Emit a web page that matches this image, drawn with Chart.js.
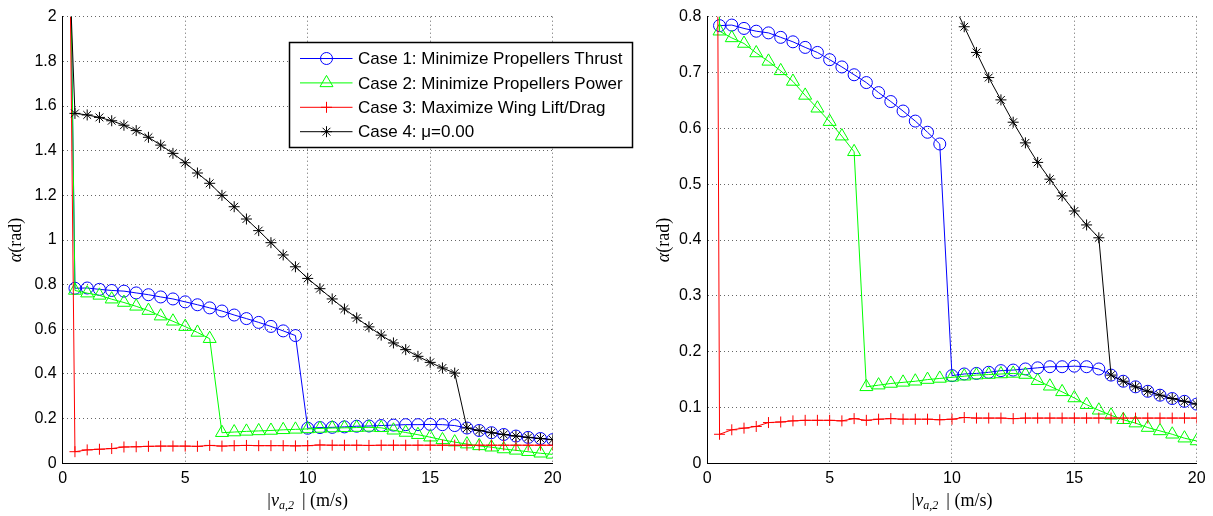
<!DOCTYPE html>
<html>
<head>
<meta charset="utf-8">
<script src="https://cdn.jsdelivr.net/npm/chart.js@4.4.1/dist/chart.umd.min.js"></script>
<style>
    html, body { margin: 0; padding: 0; background: #fff; }
    #wrap { position: relative; width: 1213px; height: 516px; }
    #leftChart { position: absolute; left: 0; top: 0; }
    #rightChart { position: absolute; left: 640px; top: 0; }
</style>
</head>
<body>
<div id="wrap">
    <canvas id="leftChart" width="640" height="516"></canvas>
    <canvas id="rightChart" width="573" height="516"></canvas>
</div>
<script>
// airspeed |v_a,2| (m/s)
const speeds = [0.3, 0.5, 1, 1.5, 2, 2.5, 3, 3.5, 4, 4.5, 5, 5.5, 6, 6.5, 7, 7.5, 8, 8.5, 9, 9.5,
    10, 10.5, 11, 11.5, 12, 12.5, 13, 13.5, 14, 14.5, 15, 15.5, 16, 16.5, 17, 17.5, 18, 18.5, 19, 19.5, 20];

// alpha (rad) per case
const case1Thrust = [2.4, 0.784, 0.785, 0.779, 0.774, 0.771, 0.763, 0.755, 0.745, 0.736, 0.723, 0.710, 0.696, 0.682, 0.664, 0.648, 0.631, 0.613, 0.593, 0.572,
    0.157, 0.160, 0.161, 0.163, 0.166, 0.167, 0.169, 0.171, 0.173, 0.173, 0.174, 0.173, 0.169, 0.158, 0.147, 0.137, 0.129, 0.122, 0.116, 0.111, 0.106];
const case2Power = [2.4, 0.774, 0.762, 0.752, 0.735, 0.720, 0.703, 0.684, 0.659, 0.636, 0.612, 0.586, 0.558, 0.137, 0.140, 0.143, 0.145, 0.147, 0.150, 0.152,
    0.154, 0.156, 0.158, 0.159, 0.160, 0.161, 0.159, 0.148, 0.138, 0.128, 0.117, 0.105, 0.095, 0.086, 0.078, 0.072, 0.064, 0.058, 0.052, 0.045, 0.040];
const case3LiftDrag = [2.2, 0.052, 0.060, 0.063, 0.066, 0.073, 0.074, 0.076, 0.077, 0.077, 0.077, 0.076, 0.080, 0.077, 0.079, 0.080, 0.079, 0.079, 0.079, 0.078,
    0.079, 0.082, 0.081, 0.081, 0.081, 0.080, 0.081, 0.081, 0.081, 0.081, 0.081, 0.081, 0.081, 0.081, 0.081, 0.081, 0.081, 0.081, 0.081, 0.081, 0.081];
const case4Mu0 = [2.15, 1.567, 1.560, 1.549, 1.534, 1.514, 1.490, 1.460, 1.425, 1.388, 1.346, 1.300, 1.254, 1.200, 1.149, 1.094, 1.042, 0.988, 0.933, 0.880,
    0.828, 0.782, 0.736, 0.691, 0.651, 0.611, 0.574, 0.539, 0.509, 0.479, 0.452, 0.427, 0.404, 0.158, 0.147, 0.137, 0.129, 0.122, 0.116, 0.111, 0.106];

const caseLabels = [
    'Case 1: Minimize Propellers Thrust',
    'Case 2: Minimize Propellers Power',
    'Case 3: Maximize Wing Lift/Drag',
    'Case 4: \u03bc=0.00'
];
const caseColors = ['#0000ff', '#00ff00', '#ff0000', '#000000'];
const caseStyles = ['circle', 'triangle', 'cross', 'star'];
const caseRadius = [6, 7.5, 5.5, 5.5];

const sansFont = "'Liberation Sans', Arial, sans-serif";
const serifFont = "'Liberation Serif', 'DejaVu Serif', serif";

function makeDatasets() {
    const all = [case1Thrust, case2Power, case3LiftDrag, case4Mu0];
    return all.map((vals, i) => ({
        label: caseLabels[i],
        data: speeds.map((x, j) => ({ x: x, y: vals[j] })),
        borderColor: caseColors[i],
        backgroundColor: 'rgba(0,0,0,0)',
        pointBorderColor: caseColors[i],
        pointBackgroundColor: 'rgba(0,0,0,0)',
        pointStyle: caseStyles[i],
        pointRadius: caseRadius[i],
        pointBorderWidth: 1,
        borderWidth: 1,
        tension: 0,
        order: 4 - i
    }));
}

// axis titles with italic math parts
const axisTitles = {
    id: 'axisTitles',
    afterDraw(chart, args, opts) {
        const { ctx, chartArea } = chart;
        ctx.save();
        ctx.fillStyle = '#000';
        ctx.textBaseline = 'middle';

        const xParts = [
            { t: '|', f: '18px ' + serifFont, dy: 0 },
            { t: 'v', f: 'italic 18px ' + serifFont, dy: 0 },
            { t: 'a,2', f: 'italic 12px ' + serifFont, dy: 5 },
            { t: ' \u2009| ', f: '18px ' + serifFont, dy: 0 },
            { t: '(m/s)', f: '18px ' + serifFont, dy: 0 }
        ];
        let w = 0;
        xParts.forEach(p => { ctx.font = p.f; p.w = ctx.measureText(p.t).width; w += p.w; });
        let x = (chartArea.left + chartArea.right) / 2 - w / 2;
        ctx.textAlign = 'left';
        xParts.forEach(p => { ctx.font = p.f; ctx.fillText(p.t, x, opts.xTitleY + p.dy); x += p.w; });

        const yParts = [
            { t: '\u03b1', f: 'italic 18px ' + serifFont },
            { t: '(rad)', f: '18px ' + serifFont }
        ];
        w = 0;
        yParts.forEach(p => { ctx.font = p.f; p.w = ctx.measureText(p.t).width; w += p.w; });
        ctx.translate(opts.yTitleX, (chartArea.top + chartArea.bottom) / 2);
        ctx.rotate(-Math.PI / 2);
        x = -w / 2;
        yParts.forEach(p => { ctx.font = p.f; ctx.fillText(p.t, x, 0); x += p.w; });
        ctx.restore();
    }
};

// boxed legend like the original figure
const boxLegend = {
    id: 'boxLegend',
    afterDraw(chart, args, opts) {
        if (!opts.show) return;
        const ctx = chart.ctx;
        const left = 289.5, top = 42.5, right = 632.5, bottom = 147.5;
        ctx.save();
        ctx.fillStyle = '#fff';
        ctx.fillRect(left, top, right - left, bottom - top);
        ctx.strokeStyle = '#000';
        ctx.lineWidth = 1.5;
        ctx.strokeRect(left, top, right - left, bottom - top);
        ctx.font = '17px ' + sansFont;
        ctx.textBaseline = 'middle';
        ctx.textAlign = 'left';
        caseLabels.forEach((label, i) => {
            const y = 58.5 + i * 24.4;
            ctx.strokeStyle = caseColors[i];
            ctx.lineWidth = 1;
            ctx.beginPath();
            ctx.moveTo(300, y);
            ctx.lineTo(352.5, y);
            ctx.stroke();
            ctx.fillStyle = 'rgba(0,0,0,0)';
            Chart.helpers.drawPoint(ctx, {
                pointStyle: caseStyles[i],
                radius: caseRadius[i],
                rotation: 0,
                borderWidth: 1
            }, 326.5, y);
            ctx.fillStyle = '#000';
            ctx.fillText(label, 358, y + 1);
        });
        ctx.restore();
    }
};

const plainTick = v => String(Math.round(v * 100) / 100);

function makeChart(canvasId, yMax, yStep, yWidth, padRight, titleX, showLegend) {
    const ctx = document.getElementById(canvasId).getContext('2d');
    return new Chart(ctx, {
        type: 'line',
        data: { datasets: makeDatasets() },
        options: {
            responsive: false,
            animation: false,
            events: [],
            layout: { padding: { top: 16.7, right: padRight, left: 0, bottom: 0 } },
            scales: {
                x: {
                    type: 'linear',
                    min: 0,
                    max: 20,
                    ticks: { stepSize: 5, color: '#000', padding: 6, font: { family: sansFont, size: 16 }, callback: plainTick },
                    grid: { color: '#666', lineWidth: 1, drawTicks: false },
                    border: { display: true, color: '#000', width: 1, dash: [1, 3] },
                    afterFit: s => { s.height = 52.7; }
                },
                y: {
                    min: 0,
                    max: yMax,
                    ticks: { stepSize: yStep, color: '#000', padding: 6, font: { family: sansFont, size: 16 }, callback: plainTick },
                    grid: { color: '#666', lineWidth: 1, drawTicks: false },
                    border: { display: true, color: '#000', width: 1, dash: [1, 3] },
                    afterFit: s => { s.width = yWidth; }
                }
            },
            plugins: {
                legend: { display: false },
                tooltip: { enabled: false },
                axisTitles: { xTitleY: 501, yTitleX: titleX },
                boxLegend: { show: showLegend }
            }
        },
        plugins: [axisTitles, boxLegend]
    });
}

makeChart('leftChart', 2, 0.2, 62.7, 87.3, 16, true);
makeChart('rightChart', 0.8, 0.1, 67.3, 16.3, 24, false);
</script>
</body>
</html>
